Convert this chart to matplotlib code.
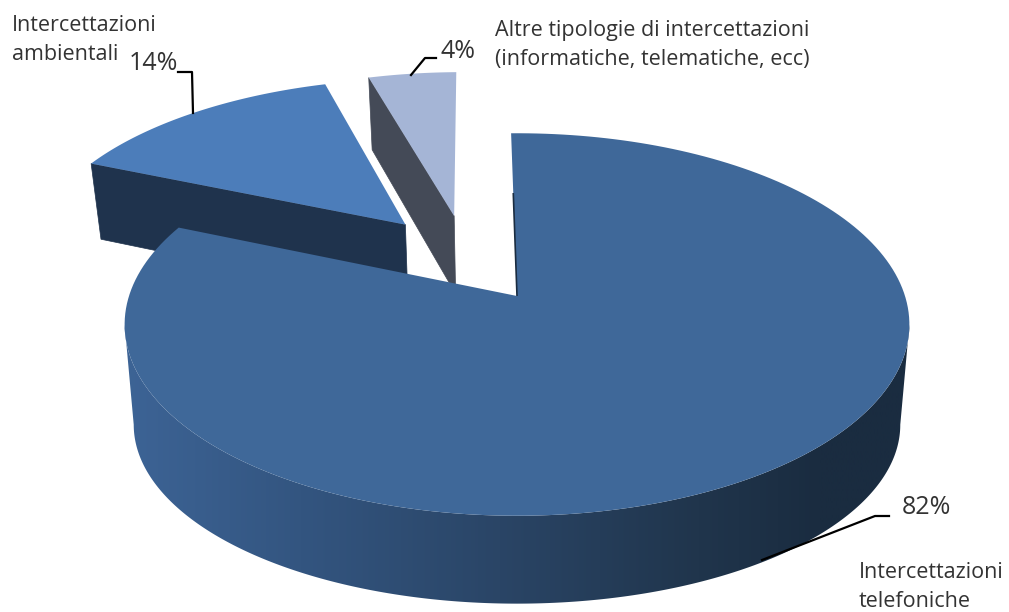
'''
3D exploded pie of intercettazioni types, drawn by hand because
matplotlib has no perspective pie.
'''

import numpy as np
import matplotlib
matplotlib.use("Agg")
import matplotlib.pyplot as plt
from matplotlib.patches import Polygon
from matplotlib.colors import LinearSegmentedColormap

# data
categories = ["Intercettazioni\ntelefoniche", "Intercettazioni\nambientali",
              "Altre tipologie di intercettazioni\n(informatiche, telematiche, ecc)"]
values = [81.6, 14.0, 4.4]

plt.rcParams['font.family'] = ['Open Sans', 'DejaVu Sans']

# slice offset on the pie plane (right, back), in pie radii
offsets = [(0.0, 0.0), (-0.305, 0.405), (-0.173, 0.457)]
top_colors = ['#3f6899', '#4c7dba', '#a5b5d6']
wall_colors = [None, '#1f334d', '#444a57']

# perspective of the top and bottom faces
K = 0.149
START = -1.0  # degrees clockwise from north


def project(u, v, x0=517.0, y0=296.0, bx=388.0, ay=187.0):
    w = 1 + K * v
    return x0 + bx * u / w, y0 - ay * v / w


def top_face(u, v):
    return project(u, v)


def bottom_face(u, v):
    return project(u, v, x0=517.0, y0=377.0, bx=379.0, ay=194.5)


def bottom_main(u, v):
    return project(u, v, x0=517.0, y0=398.0, bx=379.0, ay=175.0)


def arc(a0, a1, off, n=200):
    t = np.radians(np.linspace(a0, a1, n))
    return np.sin(t) + off[0], np.cos(t) + off[1]


def wedge_xy(face, a0, a1, off):
    u, v = arc(a0, a1, off)
    u = np.r_[off[0], u]
    v = np.r_[off[1], v]
    x, y = face(u, v)
    return np.column_stack([x, y])


fig = plt.figure(figsize=(10.09, 6.12), dpi=100)
ax = fig.add_axes([0, 0, 1, 1])

edges = START + np.cumsum([0] + values) * 3.6

# small slices first, the big one sits in front of them
for i in [2, 1]:
    a0, a1 = edges[i], edges[i + 1]
    off = offsets[i]
    # cut face hanging from the leading edge of the slice
    u, v = arc(a0, a0, off, n=1)
    xa, ya = top_face(off[0], off[1])
    xb, yb = bottom_face(off[0], off[1])
    xc, yc = top_face(u[0], v[0])
    xd, yd = bottom_face(u[0], v[0])
    pts = [(xa, ya), (xc, yc), (xd, yd), (xb, yb)]
    ax.add_patch(Polygon(pts, fc=wall_colors[i], ec=wall_colors[i], lw=0.5))
    ax.add_patch(Polygon(wedge_xy(top_face, a0, a1, off), fc=top_colors[i], ec='none'))

# outer wall of the big slice, shaded left to right
stops_x = [120, 300, 500, 700, 820, 915]
stops_c = ['#3d6496', '#335580', '#2a4566', '#20354c', '#1a2c40', '#1a2c40']
shade = LinearSegmentedColormap.from_list(
    'wall', [((x - 120) / (915 - 120), c) for x, c in zip(stops_x, stops_c)])

# silhouette runs between the widest points of the top and bottom ellipses
tang = np.degrees(np.arcsin(K))
u, v = arc(90 + tang, 270 - tang, offsets[0], n=600)
tx, ty = top_face(u, v)
bx, by = bottom_main(u, v)
outline = np.r_[np.column_stack([tx, ty]), np.column_stack([bx, by])[::-1]]
wall = Polygon(outline, fc='none', ec='none', transform=ax.transData)
ax.add_patch(wall)
img = ax.imshow(np.linspace(0, 1, 400)[None, :], cmap=shade, aspect='auto',
                extent=(120, 915, 612, 0), interpolation='bilinear')
img.set_clip_path(wall)

ax.add_patch(Polygon(wedge_xy(top_face, edges[0], edges[1], offsets[0]), fc=top_colors[0], ec='none'))

# thin dark sliver on the cut at the start of the big slice
su = np.sin(np.radians(START))
sv = np.cos(np.radians(START))
x1, y1 = top_face(0.0, 0.0)
x2, y2 = top_face(su * 0.6, sv * 0.6)
ax.plot([x1, x2], [y1, y2], color='#1a2c40', lw=1.2, solid_capstyle='butt')

# leader lines
ax.plot([178, 192, 193], [72, 72, 113], color='black', lw=1.6)
ax.plot([436, 425, 411], [58, 58, 75], color='black', lw=1.6)
ax.plot([889, 875, 762], [516, 516, 560], color='black', lw=1.6)

# labels
tc = '#333333'
fs_pct = 18.0
fs_lab = 15.5
ax.text(153, 64, f'{values[1]:.0f}%', fontsize=fs_pct, color=tc, ha='center', va='center')
ax.text(458, 51, f'{values[2]:.0f}%', fontsize=fs_pct, color=tc, ha='center', va='center')
ax.text(926, 508, f'{values[0]:.0f}%', fontsize=fs_pct, color=tc, ha='center', va='center')

# each line is its own text, the 14% sits close to the short second line
for cat, x, ys in [(categories[1], 12, (31, 60)),
                   (categories[2], 495, (36, 65)),
                   (categories[0], 859, (578, 607))]:
    for line, y in zip(cat.split('\n'), ys):
        ax.text(x, y, line, fontsize=fs_lab, color=tc, ha='left', va='baseline')

ax.set_xlim(0, 1009)
ax.set_ylim(612, 0)
ax.axis('off')

fig.savefig('out.png', dpi=100, facecolor='white')
